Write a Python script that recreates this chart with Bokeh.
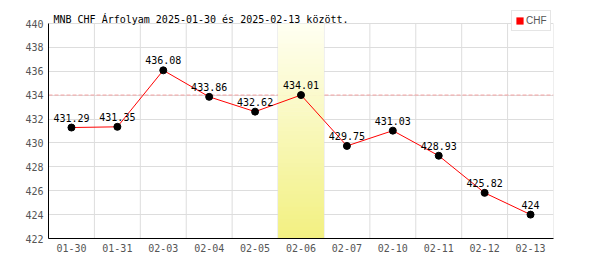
import numpy as np
from bokeh.plotting import figure
from bokeh.models import (FactorRange, Range1d, FixedTicker, Span, BoxAnnotation,
                          Legend, LegendItem, Label)
from bokeh.core.properties import value
from bokeh.embed import file_html
from bokeh.resources import INLINE

# ---- data ----
dates = ["01-30", "01-31", "02-03", "02-04", "02-05", "02-06",
         "02-07", "02-10", "02-11", "02-12", "02-13"]
rates = [431.29, 431.35, 436.08, 433.86, 432.62, 434.01,
         429.75, 431.03, 428.93, 425.82, 424.0]
rate_labels = ["431.29", "431.35", "436.08", "433.86", "432.62", "434.01",
               "429.75", "431.03", "428.93", "425.82", "424"]
y_ticks = [422, 424, 426, 428, 430, 432, 434, 436, 438, 440]
highlight_date = "02-06"
series_name = "CHF"
title_text = "MNB CHF Árfolyam 2025-01-30 és 2025-02-13 között."

MONO = "DejaVu Sans Mono"
GRID = "#dddddd"

# layout: the value axis spans 215 px; a 23 px strip above it holds title & legend
plot_px, top_px = 215.0, 23.0
y_lo, y_hi = y_ticks[0], y_ticks[-1]
y_end = y_hi + top_px * (y_hi - y_lo) / plot_px

p = figure(width=600, height=270,
           x_range=FactorRange(factors=dates),
           y_range=Range1d(y_lo, y_end),
           output_backend="svg", toolbar_location=None,
           min_border_left=48, min_border_right=47,
           min_border_top=0, min_border_bottom=32)
p.outline_line_color = None
p.background_fill_color = "white"
p.border_fill_color = "white"

# grids: horizontal from the axis ticker, vertical at category boundaries (422..440 only)
p.ygrid.grid_line_color = GRID
p.xgrid.visible = False
bx = list(range(len(dates) + 1))
p.segment(x0=bx, x1=bx, y0=[y_lo] * len(bx), y1=[y_hi] * len(bx),
          line_color=GRID, line_width=1, level="image")

# axes
p.yaxis.ticker = FixedTicker(ticks=y_ticks)
p.yaxis.bounds = (y_lo, y_hi)
for ax in (p.xaxis[0], p.yaxis[0]):
    ax.axis_line_color = "black"
    ax.axis_line_width = 1
    ax.major_tick_out = 0
    ax.major_tick_in = 0
    ax.minor_tick_out = 0
    ax.minor_tick_in = 0
    ax.major_label_text_font = MONO
    ax.major_label_text_font_size = "10px"
    ax.major_label_text_color = "#555555"
    ax.major_label_standoff = 5

# highlighted day's reference line
hi = dates.index(highlight_date)
p.add_layout(Span(location=rates[hi], dimension="width", line_color="#f4a0a0",
                  line_width=1, line_dash="4 2", level="underlay"))

# gradient band for the highlighted day (from the top gridline down past the axis)
band_top_px = plot_px
band_bot_px = -32.0
n_strips = 62
edges = np.linspace(band_top_px, band_bot_px, n_strips + 1)
c_top = np.array([255, 255, 242])
c_bot = np.array([240, 238, 112])
for i in range(n_strips):
    t = (i + 0.5) / n_strips
    c = (c_top + (c_bot - c_top) * t).round().astype(int)
    col = "#%02x%02x%02x" % tuple(c)
    p.add_layout(BoxAnnotation(left=hi, right=hi + 1,
                               top=edges[i], bottom=edges[i + 1] - 0.6,
                               top_units="screen", bottom_units="screen",
                               fill_color=col, fill_alpha=1.0,
                               line_color=None, level="underlay"))

# series
p.line(dates, rates, line_color="red", line_width=1)
p.scatter(dates, rates, size=7, fill_color="black", line_color="black")
p.text(x=dates, y=rates, text=rate_labels, text_font=value(MONO),
       text_font_size="10px", text_color="black", text_align="center",
       text_baseline="bottom", y_offset=-6)

# legend swatch: a zero-area quad (so the legend has a glyph to draw)
sq = p.quad(left=[hi], right=[hi], top=[rates[hi]], bottom=[rates[hi]],
            fill_color="red", line_color=None)
legend = Legend(items=[LegendItem(label=series_name, renderers=[sq])],
                location=(463, 207), padding=3, spacing=0, margin=0,
                glyph_width=9, glyph_height=9, label_standoff=2,
                label_height=13, label_width=18,
                label_text_font="Liberation Sans", label_text_font_size="10px",
                label_text_color="#555555",
                border_line_color="#cccccc", border_line_width=1,
                background_fill_color="white", background_fill_alpha=1.0)
p.add_layout(legend)

# title
p.add_layout(Label(x=5, y=219.5, x_units="screen", y_units="screen",
                   text=title_text, text_font=MONO, text_font_size="10px",
                   text_color="black", text_baseline="alphabetic"))

open("out.html", "w").write(file_html(p, INLINE))
